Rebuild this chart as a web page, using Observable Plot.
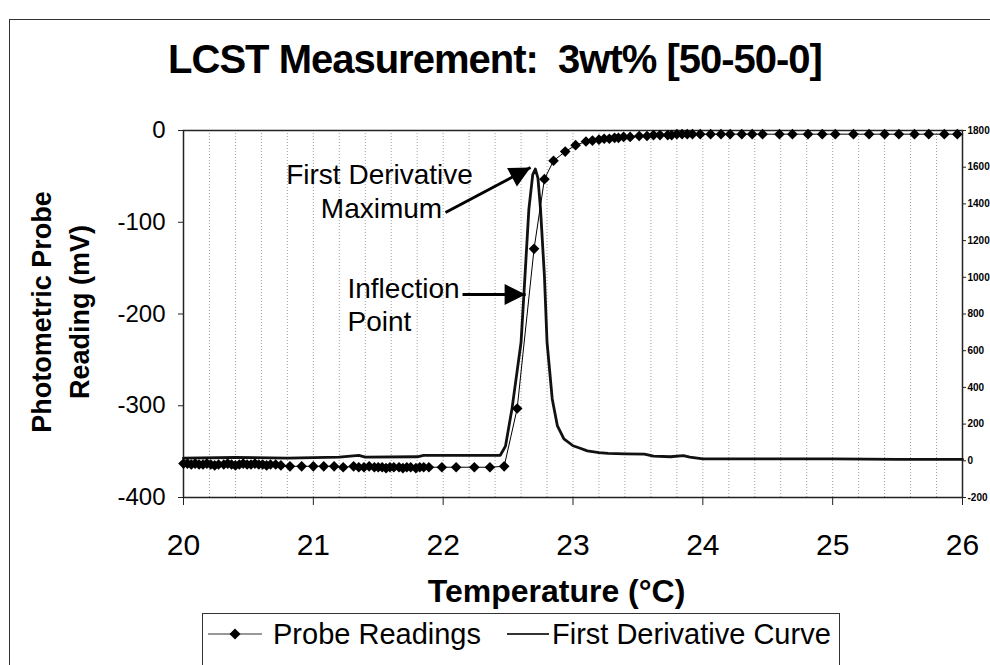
<!DOCTYPE html>
<html><head><meta charset="utf-8">
<script src="https://cdn.jsdelivr.net/npm/d3@7"></script>
<script src="https://cdn.jsdelivr.net/npm/@observablehq/plot@0.6"></script>
<style>
html, body { margin:0; padding:0; background:#fff; }
body { width:990px; height:665px; overflow:hidden; position:relative; font-family:"Liberation Sans", Arial, Helvetica, sans-serif; color:#000; }
#border { position:absolute; left:9px; top:19px; width:1200px; height:900px; border-left:1.5px solid #333; border-top:1.5px solid #333; box-sizing:border-box; z-index:5; pointer-events:none; }
#title { position:absolute; left:0; top:39px; width:990px; text-align:center; font-weight:bold; font-size:40px; line-height:40px; letter-spacing:-1px; white-space:pre; }
#chart { position:absolute; left:0; top:85px; }
#legend { position:absolute; left:202px; top:613px; width:638px; height:80px; border:1.5px solid #333; box-sizing:border-box; }
#legend .item { position:absolute; top:6px; font-size:29px; line-height:29px; white-space:pre; }
#legend svg { position:absolute; top:8px; }
</style></head>
<body>
<div id="title"></div>
<div id="chart"></div>
<div id="legend"></div>
<div id="border"></div>
<script>
// ---- texts ----
const titleText = "LCST Measurement:  3wt% [50-50-0]";
const xLabel = "Temperature (°C)";
const yLabelLines = ["Photometric Probe", "Reading (mV)"];
const seriesNames = ["Probe Readings", "First Derivative Curve"];

// ---- probe readings (temperature °C, mV) ----
const probeT = [20.00,20.03,20.06,20.09,20.12,20.15,20.18,20.21,20.24,20.27,20.31,20.34,20.37,20.40,20.43,20.46,20.49,20.52,20.55,20.58,20.61,20.64,20.67,20.71,20.75,20.82,20.91,21.00,21.08,21.16,21.23,21.31,21.35,21.39,21.43,21.47,21.50,21.53,21.56,21.59,21.62,21.66,21.69,21.72,21.75,21.79,21.82,21.85,21.89,21.99,22.10,22.24,22.36,22.47,22.57,22.70,22.78,22.85,22.94,23.02,23.10,23.15,23.20,23.24,23.28,23.32,23.35,23.39,23.44,23.51,23.57,23.62,23.67,23.73,23.76,23.80,23.84,23.88,23.92,23.98,24.06,24.14,24.21,24.30,24.38,24.46,24.59,24.69,24.81,24.92,25.02,25.16,25.28,25.40,25.51,25.63,25.74,25.86,25.96];
const probeMV = [-363,-363,-364,-363,-364,-364,-363,-364,-365,-364,-364,-363,-364,-365,-364,-363,-364,-364,-363,-364,-364,-365,-364,-364,-365,-366,-366,-366,-366,-366,-367,-366,-367,-367,-366,-367,-367,-367,-368,-367,-367,-367,-368,-367,-367,-368,-367,-367,-367,-367,-367,-367,-367,-366,-303,-129,-53,-33,-23,-16,-12,-11,-10,-9,-9,-8,-8,-7,-7,-6,-6,-5,-5,-5,-5,-4,-4,-4,-4,-4,-4,-4,-4,-4,-4,-4,-4,-4,-4,-4,-4,-4,-4,-4,-4,-4,-4,-4,-4];

// ---- first derivative curve (temperature °C, right-axis units) ----
const derivT = [20.00,20.40,20.80,21.20,21.35,21.40,21.80,21.85,22.20,22.44,22.48,22.53,22.60,22.63,22.66,22.69,22.71,22.73,22.75,22.78,22.80,22.84,22.88,22.93,23.00,23.05,23.11,23.20,23.27,23.40,23.55,23.62,23.75,23.85,23.90,24.00,24.50,25.00,25.50,26.00];
const derivV = [15,18,15,20,30,20,22,30,30,30,80,283,647,1005,1370,1560,1590,1540,1370,1005,647,337,190,120,82,70,54,45,40,38,36,25,22,28,20,10,10,10,8,8];

// ---- axes ----
const xTicks = [20,21,22,23,24,25,26];
const gridT = [20.2,20.4,20.6,20.8,21.0,21.2,21.4,21.6,21.8,22.0,22.2,22.4,22.6,22.8,23.0,23.2,23.4,23.6,23.8,24.0,24.2,24.4,24.6,24.8,25.0,25.2,25.4,25.6,25.8];
const leftTicks = [-400,-300,-200,-100,0];
const rightTicks = [-200,0,200,400,600,800,1000,1200,1400,1600,1800];
const leftDomain = [-400, 0];
const rightDomain = [-200, 1800];

// ---- annotations (data coordinates) ----
const noteTexts = ["First Derivative", "Maximum", "Inflection", "Point"];
const noteT = [21.51, 21.525, 21.263, 21.263];
const noteMV = [-57.8, -95.9, -183.1, -218.0];
const noteAnchor = ["middle", "middle", "start", "start"];
const arrowFromT = [22.018, 22.149];
const arrowFromMV = [-89.4, -178.7];
const arrowTipT = [22.673, 22.635];
const arrowTipMV = [-40.3, -178.7];

// map right-axis values onto the left-axis scale (secondary axis)
const k = (leftDomain[1] - leftDomain[0]) / (rightDomain[1] - rightDomain[0]);
const toLeft = d => leftDomain[0] + (d - rightDomain[0]) * k;
const fromLeft = v => Math.round(rightDomain[0] + (v - leftDomain[0]) / k);

const probe = probeT.map((t, i) => ({t, v: probeMV[i]}));
const deriv = derivT.map((t, i) => ({t, v: toLeft(derivV[i])}));
const notes = noteTexts.map((s, i) => ({s, t: noteT[i], v: noteMV[i], a: noteAnchor[i]}));
const arrows = arrowFromT.map((t, i) => ({t1: t, v1: arrowFromMV[i], t2: arrowTipT[i], v2: arrowTipMV[i]}));

const FONT = "Liberation Sans, Arial, Helvetica, sans-serif";
const W = 990, H = 525;
const mL = 183, mR = 28, mT = 45, mB = 113;
const xPx = d3.scaleLinear([20, 26], [mL, W - mR]);
const yPx = d3.scaleLinear(leftDomain, [H - mB, mT]);

// filled arrowhead symbol with its tip at the origin, oriented along each arrow
function headSymbol(a) {
  const ang = Math.atan2(yPx(a.v2) - yPx(a.v1), xPx(a.t2) - xPx(a.t1));
  const L = 21, Wd = 21;
  const pts = [[0, 0], [-L, -Wd / 2], [-L, Wd / 2]];
  return {
    draw(ctx) {
      pts.forEach(([x, y], i) => {
        const X = x * Math.cos(ang) - y * Math.sin(ang);
        const Y = x * Math.sin(ang) + y * Math.cos(ang);
        if (i) ctx.lineTo(X, Y); else ctx.moveTo(X, Y);
      });
      ctx.closePath();
    }
  };
}

document.getElementById("title").textContent = titleText;

const chart = Plot.plot({
  width: W, height: H,
  marginLeft: mL, marginRight: mR, marginTop: mT, marginBottom: mB,
  style: {fontFamily: FONT, color: "#000", background: "transparent", overflow: "visible"},
  x: {domain: [20, 26]},
  y: {domain: leftDomain},
  marks: [
    Plot.ruleX(gridT, {stroke: "#a0a0a0", strokeDasharray: "1,2", strokeWidth: 1}),
    Plot.frame({stroke: "#222", strokeWidth: 1.5}),
    Plot.axisX({ticks: xTicks, tickSize: 8, tickPadding: 28, fontSize: 30, tickFormat: d => String(d), label: null, stroke: "#222"}),
    Plot.axisY({ticks: leftTicks, tickSize: 5, tickPadding: 13, fontSize: 24, tickFormat: d => String(d), label: null, stroke: "#222"}),
    Plot.axisY({anchor: "right", ticks: rightTicks.map(toLeft), tickSize: 3, tickPadding: 2, fontSize: 10, fontWeight: "bold", tickFormat: d => String(fromLeft(d)), label: null, stroke: "#222"}),
    Plot.line(deriv, {x: "t", y: "v", stroke: "#111", strokeWidth: 2.8, curve: "linear"}),
    Plot.line(probe, {x: "t", y: "v", stroke: "#000", strokeWidth: 1}),
    Plot.dot(probe, {x: "t", y: "v", symbol: "diamond2", r: 4.8, fill: "#000", stroke: "none"}),
    Plot.link(arrows, {x1: "t1", y1: "v1", x2: "t2", y2: "v2", stroke: "#000", strokeWidth: 3}),
    ...arrows.map(a => Plot.dot([a], {x: "t2", y: "v2", symbol: headSymbol(a), r: 10, fill: "#000", stroke: "none"})),
    Plot.text(notes.filter(n => n.a === "middle"), {x: "t", y: "v", text: "s", textAnchor: "middle", lineAnchor: "bottom", fontSize: 28, fill: "#000"}),
    Plot.text(notes.filter(n => n.a === "start"), {x: "t", y: "v", text: "s", textAnchor: "start", lineAnchor: "bottom", fontSize: 28, fill: "#000"}),
    Plot.text([yLabelLines[0]], {frameAnchor: "left", rotate: -90, lineAnchor: "bottom", textAnchor: "middle", dx: -133, dy: -2, fontSize: 27, fontWeight: "bold", fill: "#000"}),
    Plot.text([yLabelLines[1]], {frameAnchor: "left", rotate: -90, lineAnchor: "bottom", textAnchor: "middle", dx: -95, dy: -2, fontSize: 27, fontWeight: "bold", fill: "#000"}),
    Plot.text([xLabel], {frameAnchor: "bottom", lineAnchor: "bottom", textAnchor: "middle", dx: -16.5, dy: 104, fontSize: 32, fontWeight: "bold", fill: "#000"})
  ]
});
document.getElementById("chart").appendChild(chart);

// ---- legend ----
const legend = document.getElementById("legend");
legend.innerHTML = `
  <svg width="54" height="24" style="left:5px"><line x1="0" y1="12" x2="54" y2="12" stroke="#333" stroke-width="1.2"/><path d="M27,6.5 L32.5,12 L27,17.5 L21.5,12 Z" fill="#000"/></svg>
  <span class="item" style="left:70px"></span>
  <svg width="42" height="24" style="left:304px"><line x1="0" y1="12" x2="42" y2="12" stroke="#333" stroke-width="2.2"/></svg>
  <span class="item" style="left:349px"></span>`;
const spans = legend.querySelectorAll(".item");
spans[0].textContent = seriesNames[0];
spans[1].textContent = seriesNames[1];
</script>
</body></html>
